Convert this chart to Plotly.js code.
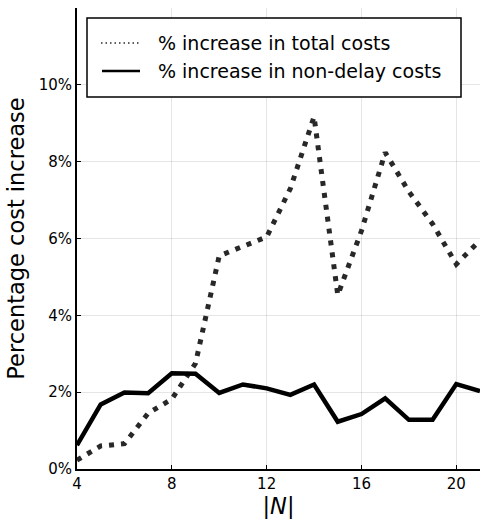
<!DOCTYPE html>
<html>
<head>
<meta charset="utf-8">
<script src="https://cdn.plot.ly/plotly-3.0.1.min.js"></script>
<style>html,body{margin:0;padding:0;background:#fff;}#chart{width:482px;height:520px;}</style>
</head>
<body>
<div id="chart"></div>
<script>
var nValues = [4,5,6,7,8,9,10,11,12,13,14,15,16,17,18,19,20,21];
var totalCostIncrease = [0.23,0.60,0.66,1.45,1.82,2.75,5.55,5.80,6.04,7.30,9.17,4.53,6.20,8.24,7.22,6.38,5.33,5.95];
var nonDelayCostIncrease = [0.62,1.68,1.99,1.97,2.49,2.48,1.98,2.20,2.10,1.93,2.20,1.23,1.43,1.84,1.28,1.28,2.21,2.03];
var yTickVals = [0,2,4,6,8,10];
var yTickText = ['0%','2%','4%','6%','8%','10%'];
var xTickVals = [4,8,12,16,20];
var seriesNames = ['% increase in total costs','% increase in non-delay costs'];

var font = 'DejaVu Sans, sans-serif';
var W = 482, H = 520, M = {l: 77, r: 2, t: 8, b: 51};
var pw = W - M.l - M.r, ph = H - M.t - M.b;
function px(x) { return (x - M.l) / pw; }
function py(y) { return (H - M.b - y) / ph; }

var traces = [
  {x: nValues, y: totalCostIncrease, type: 'scatter', mode: 'lines', name: seriesNames[0],
   line: {color: 'rgb(40,40,40)', width: 5, dash: '5px,7px'}, showlegend: false},
  {x: nValues, y: nonDelayCostIncrease, type: 'scatter', mode: 'lines', name: seriesNames[1],
   line: {color: '#000', width: 4.5}, showlegend: false}
];
var legendRows = [43, 71];
var shapes = [
  {type: 'rect', xref: 'paper', yref: 'paper', x0: px(87), x1: px(461), y0: py(97), y1: py(18),
   fillcolor: '#fff', line: {color: '#000', width: 1.5}, layer: 'above'},
  {type: 'line', xref: 'paper', yref: 'paper', x0: px(101), x1: px(140), y0: py(legendRows[0]), y1: py(legendRows[0]),
   line: {color: 'rgb(40,40,40)', width: 1.5, dash: '1.5px,3px'}, layer: 'above'},
  {type: 'line', xref: 'paper', yref: 'paper', x0: px(102), x1: px(140), y0: py(legendRows[1]), y1: py(legendRows[1]),
   line: {color: '#000', width: 2.5}, layer: 'above'}
];
var annotations = seriesNames.map(function (name, i) {
  return {xref: 'paper', yref: 'paper', x: px(156), y: py(legendRows[i]), xanchor: 'left', yanchor: 'middle',
          text: name, showarrow: false, font: {size: 19, family: font, color: '#000'}};
});
var layout = {
  width: W, height: H,
  margin: M,
  paper_bgcolor: '#fff', plot_bgcolor: '#fff',
  font: {family: font, color: '#000'},
  showlegend: false,
  shapes: shapes,
  annotations: annotations,
  xaxis: {
    range: [4, 21], tickvals: xTickVals, ticks: 'inside', ticklen: 4, tickcolor: '#000',
    showgrid: true, gridcolor: 'rgba(0,0,0,0.1)', gridwidth: 1, zeroline: false,
    showline: true, linecolor: '#000', linewidth: 2,
    tickfont: {size: 15, family: font},
    title: {text: '|<i>N</i>|', font: {size: 22.5, family: font}, standoff: 4}
  },
  yaxis: {
    range: [0, 12], tickvals: yTickVals, ticktext: yTickText, ticks: 'inside', ticklen: 4, tickcolor: '#000',
    showgrid: true, gridcolor: 'rgba(0,0,0,0.1)', gridwidth: 1, zeroline: false,
    showline: true, linecolor: '#000', linewidth: 2,
    tickfont: {size: 15, family: font},
    title: {text: 'Percentage cost increase', font: {size: 22.5, family: font}, standoff: 8}
  }
};
Plotly.newPlot('chart', traces, layout, {displayModeBar: false, staticPlot: true});
</script>
</body>
</html>
